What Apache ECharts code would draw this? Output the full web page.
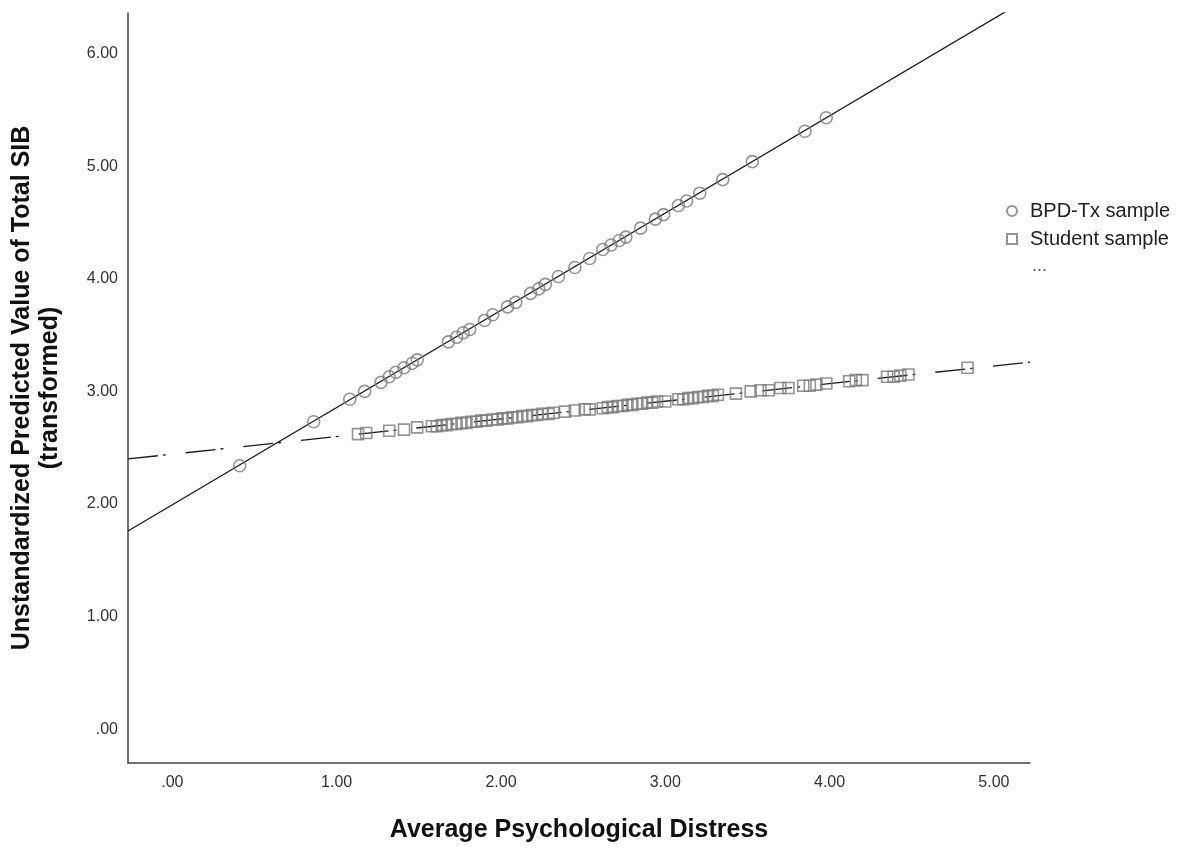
<!DOCTYPE html>
<html>
<head>
<meta charset="utf-8">
<script src="https://cdn.jsdelivr.net/npm/echarts@6/dist/echarts.min.js"></script>
<style>
html,body{margin:0;padding:0;background:#fff;}
#chart{width:1184px;height:848px;}
</style>
</head>
<body>
<div id="chart"></div>
<script>
// ---- data ----
const xTicks = [0, 1, 2, 3, 4, 5];
const yTicks = [0, 1, 2, 3, 4, 5, 6];

const bpdX = [0.41, 0.86, 1.08, 1.17, 1.27, 1.32, 1.36, 1.41, 1.46, 1.49, 1.68, 1.73, 1.77, 1.81, 1.90, 1.95, 2.04, 2.09, 2.18, 2.23, 2.27, 2.35, 2.45, 2.54, 2.62, 2.67, 2.72, 2.76, 2.85, 2.94, 2.99, 3.08, 3.13, 3.21, 3.35, 3.53, 3.85, 3.98];
const bpdY = [2.34, 2.73, 2.93, 3.00, 3.08, 3.13, 3.17, 3.21, 3.25, 3.28, 3.44, 3.48, 3.52, 3.55, 3.63, 3.68, 3.75, 3.79, 3.87, 3.91, 3.95, 4.02, 4.10, 4.18, 4.26, 4.30, 4.34, 4.37, 4.45, 4.53, 4.57, 4.65, 4.69, 4.76, 4.88, 5.04, 5.31, 5.43];

const stuX = [1.13, 1.18, 1.32, 1.41, 1.49, 1.58, 1.61, 1.64, 1.67, 1.70, 1.73, 1.76, 1.79, 1.82, 1.85, 1.88, 1.91, 1.95, 1.98, 2.01, 2.04, 2.07, 2.10, 2.13, 2.16, 2.19, 2.22, 2.25, 2.29, 2.32, 2.39, 2.45, 2.51, 2.54, 2.62, 2.65, 2.68, 2.71, 2.74, 2.77, 2.80, 2.83, 2.86, 2.89, 2.92, 2.95, 3.00, 3.08, 3.11, 3.14, 3.17, 3.20, 3.23, 3.26, 3.29, 3.32, 3.43, 3.52, 3.58, 3.63, 3.70, 3.75, 3.84, 3.88, 3.92, 3.98, 4.12, 4.16, 4.20, 4.35, 4.39, 4.43, 4.48, 4.84];
const stuY = [2.62, 2.63, 2.65, 2.66, 2.68, 2.69, 2.69, 2.70, 2.70, 2.71, 2.71, 2.72, 2.72, 2.73, 2.73, 2.74, 2.74, 2.75, 2.75, 2.76, 2.76, 2.77, 2.77, 2.78, 2.78, 2.79, 2.79, 2.80, 2.80, 2.81, 2.82, 2.83, 2.84, 2.84, 2.85, 2.86, 2.86, 2.87, 2.87, 2.88, 2.88, 2.89, 2.89, 2.90, 2.90, 2.91, 2.91, 2.93, 2.93, 2.94, 2.94, 2.95, 2.95, 2.96, 2.96, 2.97, 2.98, 3.00, 3.01, 3.01, 3.03, 3.03, 3.05, 3.05, 3.06, 3.07, 3.09, 3.10, 3.10, 3.13, 3.13, 3.14, 3.15, 3.21];

// fitted lines (end points)
const bpdFitX = [-0.27, 5.22];
const bpdFitY = [1.76, 6.50];
const stuFitX = [-0.27, 5.22];
const stuFitY = [2.40, 3.26];

const seriesNames = ['BPD-Tx sample', 'Student sample'];
const xTitle = 'Average Psychological Distress';
const yTitle = 'Unstandardized Predicted Value of Total SIB\n(transformed)';

// ---- build ----
const zip = (a, b) => a.map((v, i) => [v, b[i]]);
const fmt = v => { const s = v.toFixed(2); return s.startsWith('0') ? s.slice(1) : s; };

const chart = echarts.init(document.getElementById('chart'), null, {renderer: 'canvas'});
const font = '"Liberation Sans", Arial, sans-serif';

chart.setOption({
  animation: false,
  backgroundColor: '#ffffff',
  textStyle: {fontFamily: font},
  grid: {left: 127, top: 13, right: 154, bottom: 85, containLabel: false},
  xAxis: {
    type: 'value', min: -0.27, max: 5.22,
    splitLine: {show: false},
    axisLine: {show: true, onZero: false, lineStyle: {color: '#444', width: 1.5}},
    axisTick: {show: false},
    axisLabel: {customValues: xTicks, formatter: fmt, fontSize: 16, color: '#333', margin: 12, fontFamily: font},
    name: xTitle, nameLocation: 'middle', nameGap: 55,
    nameTextStyle: {fontSize: 25, fontWeight: 'bold', color: '#111', fontFamily: font}
  },
  yAxis: {
    type: 'value', min: -0.30, max: 6.36,
    splitLine: {show: false},
    axisLine: {show: true, onZero: false, lineStyle: {color: '#444', width: 1.5}},
    axisTick: {show: false},
    axisLabel: {customValues: yTicks, formatter: fmt, fontSize: 16, color: '#333', margin: 10, fontFamily: font},
    name: yTitle, nameLocation: 'middle', nameGap: 64, nameRotate: 90,
    nameTextStyle: {fontSize: 25, fontWeight: 'bold', color: '#111', lineHeight: 28, fontFamily: font, align: 'center'}
  },
  legend: {
    orient: 'vertical', left: 1001, top: 196,
    itemWidth: 10, itemHeight: 10, itemGap: 8,
    textStyle: {fontSize: 20, color: '#222', fontFamily: font, padding: [0, 0, 0, 8]},
    data: [
      {name: seriesNames[0], icon: 'circle'},
      {name: seriesNames[1], icon: 'rect'}
    ]
  },
  graphic: [{
    type: 'text', left: 1032, top: 257,
    style: {text: '...', fontSize: 18, fill: '#555', fontFamily: font}
  }],
  series: [
    {
      name: 'bpdFit', type: 'line', data: zip(bpdFitX, bpdFitY), symbol: 'none', clip: true,
      lineStyle: {color: '#1a1a1a', width: 1.3}, z: 1, silent: true
    },
    {
      name: 'stuFit', type: 'line', data: zip(stuFitX, stuFitY), symbol: 'none', clip: true,
      lineStyle: {color: '#1a1a1a', width: 1.3, type: [30, 5, 3, 20]}, z: 1, silent: true
    },
    {
      name: seriesNames[0], type: 'scatter', data: zip(bpdX, bpdY), symbol: 'circle', symbolSize: 12,
      itemStyle: {color: 'rgba(255,255,255,0)', borderColor: '#7a7a7a', borderWidth: 1.6}, z: 3
    },
    {
      name: seriesNames[1], type: 'scatter', data: zip(stuX, stuY), symbol: 'rect', symbolSize: 11,
      itemStyle: {color: 'rgba(255,255,255,0)', borderColor: '#7a7a7a', borderWidth: 1.6}, z: 3
    }
  ]
});
</script>
</body>
</html>
